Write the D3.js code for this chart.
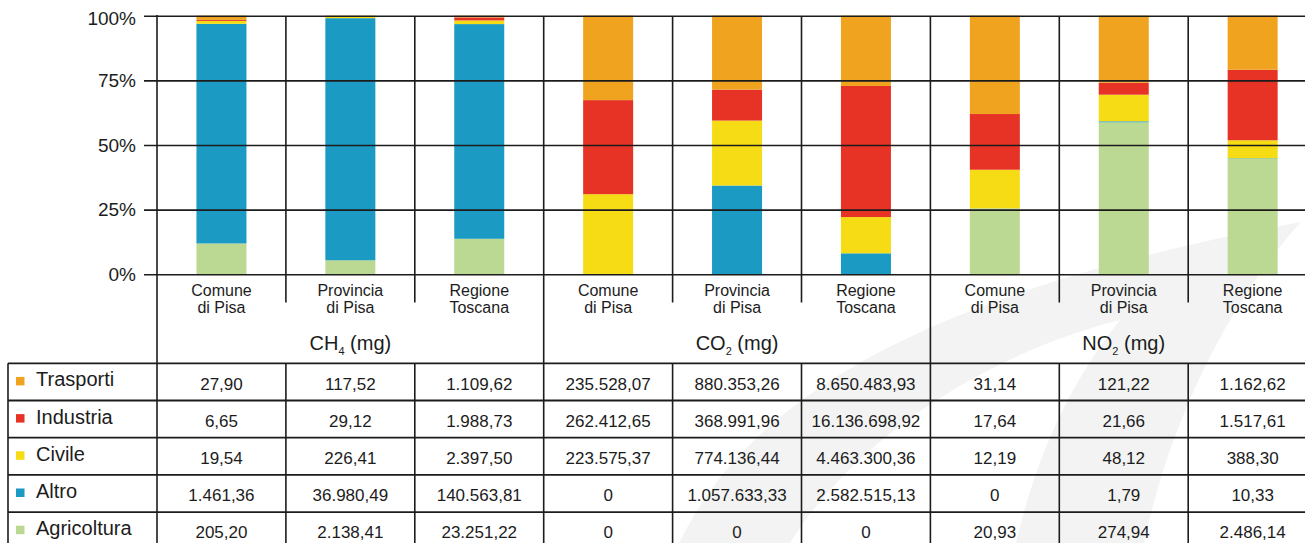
<!DOCTYPE html>
<html>
<head>
<meta charset="utf-8">
<script src="https://cdn.jsdelivr.net/npm/d3@7"></script>
<style>
  html, body { margin: 0; padding: 0; background: #fff; }
  svg { display: block; font-family: "Liberation Sans", Arial, Helvetica, sans-serif; }
</style>
</head>
<body>
<svg id="chart" width="1305" height="543"></svg>
<script>
// ---- Data -------------------------------------------------------------
const places = [["Comune", "di Pisa"], ["Provincia", "di Pisa"], ["Regione", "Toscana"]];
const pollutantBase = ["CH", "CO", "NO"];
const pollutantSub = ["4", "2", "2"];
const pollutantUnit = " (mg)";

const sectors = ["Trasporti", "Industria", "Civile", "Altro", "Agricoltura"];
const sectorColors = ["#F0A31E", "#E63326", "#F6DC15", "#1B9AC3", "#BCD993"];

// one value per column: CH4 (Comune, Provincia, Regione), CO2 (...), NO2 (...)
const trasporti   = [27.90, 117.52, 1109.62, 235528.07, 880353.26, 8650483.93, 31.14, 121.22, 1162.62];
const industria   = [6.65, 29.12, 1988.73, 262412.65, 368991.96, 16136698.92, 17.64, 21.66, 1517.61];
const civile      = [19.54, 226.41, 2397.50, 223575.37, 774136.44, 4463300.36, 12.19, 48.12, 388.30];
const altro       = [1461.36, 36980.49, 140563.81, 0, 1057633.33, 2582515.13, 0, 1.79, 10.33];
const agricoltura = [205.20, 2138.41, 23251.22, 0, 0, 0, 20.93, 274.94, 2486.14];

const yTicks = [0, 0.25, 0.5, 0.75, 1];

// ---- Derived tables ---------------------------------------------------
const seriesValues = [trasporti, industria, civile, altro, agricoltura];
const nCols = trasporti.length;
const columns = d3.range(nCols).map(j => {
  const row = { col: j };
  sectors.forEach((s, k) => { row[s] = seriesValues[k][j]; });
  return row;
});
const stackOrder = ["Agricoltura", "Altro", "Civile", "Industria", "Trasporti"];
const stacked = d3.stack().keys(stackOrder).offset(d3.stackOffsetExpand)(columns);
const color = d3.scaleOrdinal().domain(sectors).range(sectorColors);

const it = d3.formatLocale({ decimal: ",", thousands: ".", grouping: [3], currency: ["€", ""] });
const fmt = v => v === 0 ? "0" : it.format(",.2f")(v);

// ---- Layout -----------------------------------------------------------
const W = 1305, H = 543;
const plotLeft = 157, colW = 128.9;
const plotRight = plotLeft + nCols * colW;
const tableLeft = 8;
const tableTop = 363.3, rowH = 37.2;
const ink = "#1c1c1c";

const svg = d3.select("#chart");

const xCol = d3.scaleBand().domain(d3.range(nCols)).range([plotLeft, plotRight]);
const xBar = d3.scaleBand().domain(d3.range(nCols)).range([plotLeft, plotRight])
  .paddingInner(1 - 50 / colW).paddingOuter((1 - 50 / colW) / 2);
const y = d3.scaleLinear().domain([0, 1]).range([274.3, 15.7]);

// faint background emblem
const wm = svg.append("g").attr("fill", "#f2f3f2");
wm.append("path").attr("d",
  "M679,543 C740,420 880,300 1301,222 C1230,300 1170,420 1144,543 L1016,543 " +
  "C1040,440 1080,370 1120,320 C1000,350 860,430 790,543 Z");

// bars
svg.append("g").selectAll("g")
  .data(stacked)
  .join("g")
  .attr("fill", d => color(d.key))
  .selectAll("rect")
  .data(d => d)
  .join("rect")
  .attr("x", d => xBar(d.data.col))
  .attr("width", xBar.bandwidth())
  .attr("y", d => y(d[1]))
  .attr("height", d => y(d[0]) - y(d[1]));

// y axis with horizontal gridlines
const yAxis = d3.axisLeft(y)
  .tickValues(yTicks)
  .tickFormat(d3.format(".0%"))
  .tickSizeInner(-(W - 144))
  .tickSizeOuter(0)
  .tickPadding(8);
const gy = svg.append("g").attr("transform", "translate(144,0)").call(yAxis);
gy.select(".domain").remove();
gy.selectAll(".tick line").attr("stroke", ink).attr("stroke-width", 1.6);
gy.selectAll(".tick text")
  .attr("fill", ink)
  .attr("font-size", 19)
  .attr("font-family", "\"Liberation Sans\", Arial, sans-serif")
  .attr("y", d => d === 1 ? 3 : 0);

// vertical rules
const grid = svg.append("g").attr("stroke", ink).attr("stroke-width", 1.6);
grid.append("line").attr("x1", plotLeft).attr("x2", plotLeft).attr("y1", 15).attr("y2", H + 10);
d3.range(1, nCols).forEach(i => {
  const x = xCol(i);
  if (i % 3 === 0) {
    grid.append("line").attr("x1", x).attr("x2", x).attr("y1", 17).attr("y2", H + 10);
  } else {
    grid.append("line").attr("x1", x).attr("x2", x).attr("y1", 17).attr("y2", 302.5);
    grid.append("line").attr("x1", x).attr("x2", x).attr("y1", tableTop).attr("y2", H + 10);
  }
});
grid.append("line").attr("x1", tableLeft).attr("x2", tableLeft).attr("y1", tableTop).attr("y2", H + 10);
d3.range(sectors.length + 1).forEach(r => {
  const yy = tableTop + r * rowH;
  grid.append("line").attr("x1", tableLeft).attr("x2", W).attr("y1", yy).attr("y2", yy).attr("stroke-width", 1.8);
});

// column headers
const head = svg.append("g").attr("fill", ink).attr("text-anchor", "middle");
d3.range(nCols).forEach(j => {
  const cx = xCol(j) + colW / 2;
  const lines = places[j % 3];
  head.append("text").attr("x", cx).attr("y", 296).attr("font-size", 16).text(lines[0]);
  head.append("text").attr("x", cx).attr("y", 312.5).attr("font-size", 16).text(lines[1]);
});
pollutantBase.forEach((b, g) => {
  const cx = xCol(g * 3) + colW * 1.5;
  const t = head.append("text").attr("x", cx).attr("y", 350).attr("font-size", 20);
  t.append("tspan").text(b);
  t.append("tspan").attr("font-size", 11).attr("dy", 5).text(pollutantSub[g]);
  t.append("tspan").attr("dy", -5).text(pollutantUnit);
});

// legend column + values
const body = svg.append("g").attr("fill", ink);
sectors.forEach((s, k) => {
  const cy = tableTop + k * rowH + rowH / 2;
  body.append("rect").attr("x", 16).attr("y", cy - 5).attr("width", 8.5).attr("height", 8.5)
    .attr("fill", color(s));
  body.append("text").attr("x", 36).attr("y", cy + 4.5).attr("font-size", 20).text(s);
  seriesValues[k].forEach((v, j) => {
    body.append("text")
      .attr("x", xCol(j) + colW / 2)
      .attr("y", cy + 7.6)
      .attr("text-anchor", "middle")
      .attr("font-size", 17)
      .text(fmt(v));
  });
});
</script>
</body>
</html>
